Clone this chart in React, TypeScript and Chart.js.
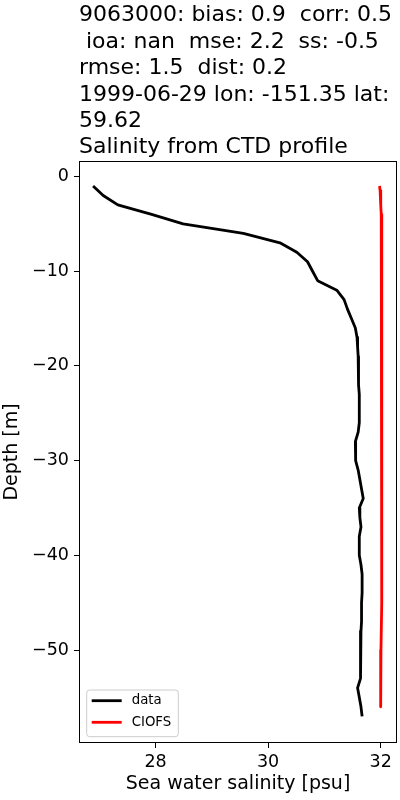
import React, { useEffect, useRef } from 'react';
import { Chart, registerables } from 'chart.js';

Chart.register(...registerables);

const titleLines = [
  '9063000: bias: 0.9  corr: 0.5',
  ' ioa: nan  mse: 2.2  ss: -0.5',
  'rmse: 1.5  dist: 0.2',
  '1999-06-29 lon: -151.35 lat:',
  '59.62',
  'Salinity from CTD profile',
];
const xLabel = 'Sea water salinity [psu]';
const yLabel = 'Depth [m]';
const xTicks = [28, 30, 32];
const yTicks = [-50, -40, -30, -20, -10, 0];

const obsLabel = 'data';
const obsDepth = [
  -1, -2, -3, -4, -5, -6, -7, -8, -9, -10,
  -11, -12, -13, -14, -15, -16, -17, -18, -19, -20,
  -21, -22, -23, -24, -25, -26, -27, -28, -29, -30,
  -31, -32, -33, -34, -35, -36, -37, -38, -39, -40,
  -41, -42, -43, -44, -45, -46, -47, -48, -49, -50,
  -51, -52, -53, -54, -55, -56, -57,
];
const obsSalinity = [
  26.89, 27.07, 27.33, 27.93, 28.49, 29.56, 30.21, 30.51, 30.70, 30.79,
  30.88, 31.22, 31.35, 31.41, 31.48, 31.55, 31.58, 31.59, 31.60, 31.60,
  31.61, 31.61, 31.62, 31.62, 31.62, 31.62, 31.60, 31.55, 31.55, 31.56,
  31.60, 31.63, 31.66, 31.69, 31.62, 31.63, 31.65, 31.62, 31.62, 31.62,
  31.65, 31.67, 31.67, 31.67, 31.66, 31.66, 31.66, 31.65, 31.65, 31.64,
  31.64, 31.64, 31.64, 31.59, 31.62, 31.65, 31.67,
];

const modelLabel = 'CIOFS';
const modelDepth = [-1, -1.5, -2, -3, -4, -6, -10, -15, -20, -30, -40, -45, -50, -56];
const modelSalinity = [31.98, 31.99, 31.997, 32.005, 32.01, 32.015, 32.02, 32.022, 32.023, 32.022, 32.018, 32.012, 32.005, 32.0];

const FONT = "'DejaVu Sans', 'Liberation Sans', sans-serif";

const framePlugin = {
  id: 'frame',
  afterDatasetsDraw(chart: any) {
    const { ctx, chartArea: a } = chart;
    ctx.save();
    ctx.strokeStyle = '#000';
    ctx.lineWidth = 1;
    ctx.strokeRect(a.left + 0.5, a.top + 0.5, a.right - a.left - 1, a.bottom - a.top - 1);
    ctx.restore();
  },
};

const legendPlugin = {
  id: 'boxLegend',
  afterDraw(chart: any) {
    const { ctx, chartArea: a } = chart;
    const x = a.left + 7.7;
    const y = a.bottom - 53;
    const w = 91.6;
    const h = 46.7;
    ctx.save();
    ctx.fillStyle = 'rgba(255,255,255,0.8)';
    ctx.strokeStyle = '#cccccc';
    ctx.lineWidth = 1;
    ctx.beginPath();
    if (ctx.roundRect) ctx.roundRect(x, y, w, h, 3);
    else ctx.rect(x, y, w, h);
    ctx.fill();
    ctx.stroke();
    chart.data.datasets.forEach((ds: any, i: number) => {
      const ly = y + 10.7 + i * 21.6;
      ctx.strokeStyle = ds.borderColor;
      ctx.lineWidth = 2.8;
      ctx.beginPath();
      ctx.moveTo(x + 5, ly);
      ctx.lineTo(x + 35, ly);
      ctx.stroke();
      ctx.fillStyle = '#000';
      ctx.font = `13.3px ${FONT}`;
      ctx.textBaseline = 'middle';
      ctx.textAlign = 'left';
      ctx.fillText(ds.label, x + 45, ly);
    });
    ctx.restore();
  },
};

const fmtMinus = (v: any) => String(v).replace('-', '\u2212');

export default function App() {
  const ref = useRef<HTMLCanvasElement | null>(null);
  useEffect(() => {
    if (!ref.current) return;
    const chart = new Chart(ref.current, {
      type: 'scatter',
      data: {
        datasets: [
          {
            label: obsLabel,
            data: obsDepth.map((d, i) => ({ x: obsSalinity[i], y: d })),
            showLine: true,
            borderColor: '#000000',
            backgroundColor: '#000000',
            borderWidth: 2.8,
            pointRadius: 0,
            borderJoinStyle: 'round',
            tension: 0,
          },
          {
            label: modelLabel,
            data: modelDepth.map((d, i) => ({ x: modelSalinity[i], y: d })),
            showLine: true,
            borderColor: '#ff0000',
            backgroundColor: '#ff0000',
            borderWidth: 2.8,
            pointRadius: 0,
            borderJoinStyle: 'round',
            tension: 0,
          },
        ],
      },
      options: {
        responsive: false,
        maintainAspectRatio: false,
        animation: false,
        layout: { padding: { left: 0, right: 3, top: 0, bottom: 0 } },
        plugins: {
          legend: { display: false },
          tooltip: { enabled: false },
          title: {
            display: true,
            text: titleLines,
            align: 'start',
            fullSize: false,
            color: '#000',
            font: { family: FONT, size: 22, weight: 'normal', lineHeight: 1.2 },
            padding: { top: 2.5, bottom: 0.1 },
          },
        },
        scales: {
          x: {
            type: 'linear',
            min: 26.64,
            max: 32.29,
            afterBuildTicks: (s: any) => { s.ticks = xTicks.map((v) => ({ value: v })); },
            afterFit: (s: any) => { s.height = 57; },
            grid: { display: true, drawOnChartArea: false, drawTicks: true, tickLength: 5, color: '#000', lineWidth: 1 },
            border: { display: false },
            ticks: { color: '#000', font: { family: FONT, size: 17.5 }, padding: 4, maxRotation: 0, callback: (v: any) => fmtMinus(v) },
            title: { display: true, text: xLabel, color: '#000', font: { family: FONT, size: 19, lineHeight: 1.2 }, padding: { top: 0, bottom: 4.5 } },
          },
          y: {
            type: 'linear',
            min: -59.82,
            max: 1.64,
            afterBuildTicks: (s: any) => { s.ticks = yTicks.map((v) => ({ value: v })); },
            afterFit: (s: any) => { s.width = 79; },
            grid: { display: true, drawOnChartArea: false, drawTicks: true, tickLength: 5, color: '#000', lineWidth: 1 },
            border: { display: false },
            ticks: { color: '#000', font: { family: FONT, size: 17.5 }, padding: 5, callback: (v: any) => fmtMinus(v) },
            title: { display: true, text: yLabel, color: '#000', font: { family: FONT, size: 19, lineHeight: 1.2 }, padding: { top: 0.5, bottom: 0 } },
          },
        },
      } as any,
      plugins: [framePlugin, legendPlugin],
    });
    return () => chart.destroy();
  }, []);
  return (
    <div style={{ position: 'absolute', left: 0, top: 0, width: 400, height: 800, background: '#fff' }}>
      <canvas ref={ref} width={400} height={800} style={{ display: 'block', width: 400, height: 800 }} />
    </div>
  );
}
